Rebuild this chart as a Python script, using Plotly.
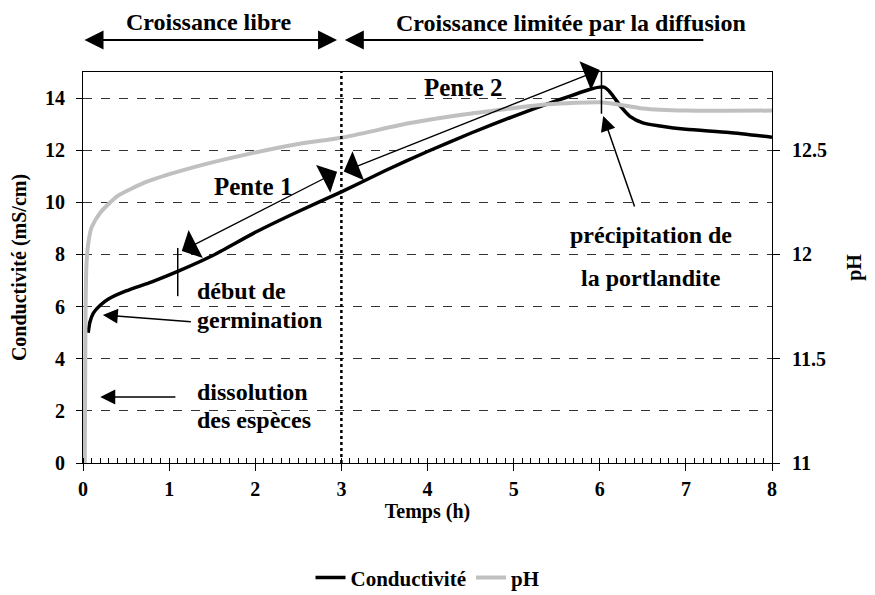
import plotly.graph_objects as go

# Conductivité (mS/cm) en fonction du temps (h)
temps_cond = [0.06, 0.08, 0.12, 0.2, 0.3, 0.5, 0.8, 1.1, 1.5, 2.0, 2.5, 3.0, 3.5,
              4.0, 4.5, 5.0, 5.5, 5.9, 6.0, 6.05, 6.1, 6.15, 6.25, 6.35, 6.5,
              6.7, 7.0, 7.5, 8.0]
conductivite = [5.0, 5.4, 5.75, 6.05, 6.3, 6.6, 6.95, 7.35, 7.95, 8.85, 9.65, 10.4, 11.2,
                11.95, 12.65, 13.3, 13.9, 14.35, 14.42, 14.42, 14.3, 14.1, 13.65, 13.3, 13.05,
                12.93, 12.8, 12.68, 12.5]

# pH en fonction du temps (h)
temps_ph = [0.02, 0.025, 0.03, 0.04, 0.06, 0.1, 0.2, 0.4, 0.75, 1.3, 1.9, 2.5, 3.0,
            3.8, 4.4, 5.4, 6.0, 6.2, 6.5, 7.0, 8.0]
ph = [11.0, 11.38, 11.75, 11.95, 12.05, 12.13, 12.2, 12.28, 12.35, 12.42, 12.48, 12.53, 12.56,
      12.63, 12.67, 12.72, 12.73, 12.72, 12.7, 12.69, 12.69]

x_ticks = [0, 1, 2, 3, 4, 5, 6, 7, 8]
y_ticks = [0, 2, 4, 6, 8, 10, 12, 14]
ph_ticks = [11, 11.5, 12, 12.5]
ph_labels = ["11", "11.5", "12", "12.5"]

FONT = "Liberation Serif"
ANN = 24

fig = go.Figure()
fig.add_trace(go.Scatter(
    x=temps_cond, y=conductivite, name="Conductivité", mode="lines",
    line=dict(color="black", width=3.5, shape="spline", smoothing=0.6),
))
fig.add_trace(go.Scatter(
    x=temps_ph, y=ph, name="pH", mode="lines", yaxis="y2",
    line=dict(color="#c0c0c0", width=4, shape="spline", smoothing=0.6),
))

# ligne verticale pointillée à 3 h
fig.add_shape(type="line", xref="x", yref="paper", x0=3, x1=3, y0=0, y1=1,
              line=dict(color="black", width=2.5, dash="dot"))
# petits repères verticaux
fig.add_shape(type="line", xref="x", yref="y", x0=1.1, x1=1.1, y0=6.4, y1=8.25,
              line=dict(color="black", width=1.5))
fig.add_shape(type="line", xref="x", yref="y", x0=6.02, x1=6.02, y0=13.4, y1=15.35,
              line=dict(color="black", width=1.5))


def arrow(x, y, ax, ay, head=2, both=False, size=1.3, width=2):
    fig.add_annotation(x=x, y=y, ax=ax, ay=ay, xref="x", yref="y", axref="x", ayref="y",
                       showarrow=True, arrowhead=head, startarrowhead=head,
                       arrowside="end+start" if both else "end",
                       arrowsize=size, startarrowsize=size, arrowwidth=width,
                       arrowcolor="black", text="")


def top_arrow(x, ax, both=False):
    fig.add_annotation(x=x, y=1.082, ax=ax, ay=0, xref="x", yref="paper", axref="x",
                       ayref="pixel", showarrow=True, arrowhead=2, startarrowhead=2,
                       arrowside="end+start" if both else "end",
                       arrowsize=1.9, startarrowsize=1.9, arrowwidth=2,
                       arrowcolor="black", text="")


def label(x, y, text, anchor="center", yref="y", size=ANN):
    fig.add_annotation(x=x, y=y, xref="x", yref=yref, text=text, showarrow=False,
                       xanchor=anchor, yanchor="middle",
                       font=dict(size=size, family=FONT, color="black", weight="bold"))


# flèches du haut
top_arrow(2.95, 0.0, both=True)
top_arrow(3.04, 7.22)
label(1.46, 1.129, "Croissance libre", yref="paper")
label(5.67, 1.125, "Croissance limitée par la diffusion", yref="paper")

# pentes
arrow(2.95, 11.17, 1.13, 8.1, head=1, both=True, size=4, width=1.3)
arrow(6.0, 15.08, 3.01, 11.16, head=1, both=True, size=4, width=1.3)
label(1.97, 10.59, "Pente 1", size=25)
label(4.41, 14.42, "Pente 2", size=25)

# repères texte
arrow(0.23, 5.68, 1.27, 5.41, head=2, size=2, width=1.5)
arrow(0.2, 2.53, 1.09, 2.53, head=2, size=2, width=1.5)
arrow(6.04, 13.31, 6.41, 9.78, head=2, size=2, width=1.5)
label(1.3, 6.6, "début de", anchor="left")
label(1.3, 5.5, "germination", anchor="left")
label(1.3, 2.72, "dissolution", anchor="left")
label(1.3, 1.65, "des espèces", anchor="left")
label(6.6, 8.75, "précipitation de")
label(6.6, 7.1, "la portlandite")

fig.update_layout(
    width=875, height=595,
    margin=dict(l=75, r=111, t=64, b=140, autoexpand=False),
    paper_bgcolor="white", plot_bgcolor="white",
    font=dict(family=FONT, size=20, color="black", weight="bold"),
    showlegend=True,
    legend=dict(orientation="h", x=0.5, xanchor="center", y=-0.294, yanchor="middle",
                font=dict(size=21), itemwidth=30, tracegroupgap=0),
    xaxis=dict(
        range=[0, 8], tickvals=x_ticks, ticks="outside", ticklen=7, tickwidth=1,
        tickcolor="black", showline=True, linecolor="black", linewidth=1, mirror=True,
        showgrid=False, zeroline=False, automargin=False, ticklabelstandoff=1,
        minor=dict(dtick=0.1, ticks="inside", ticklen=5, tickcolor="black", showgrid=False),
        title=dict(text="Temps (h)", font=dict(size=20), standoff=0),
    ),
    yaxis=dict(
        range=[0, 15], tickvals=y_ticks, ticks="outside", ticklen=6, tickcolor="black",
        showline=True, linecolor="black", linewidth=1, mirror=True, automargin=False,
        ticklabelstandoff=7,
        showgrid=True, gridcolor="#333333", gridwidth=1, griddash="dash", zeroline=False,
        title=dict(text="Conductivité (mS/cm)", font=dict(size=20), standoff=14),
    ),
    yaxis2=dict(
        range=[11, 12.875], overlaying="y", side="right", tickvals=ph_ticks,
        ticktext=ph_labels, ticks="outside", ticklen=7, tickcolor="black", automargin=False,
        ticklabelstandoff=8,
        showgrid=False, zeroline=False, showline=True, linecolor="black",
        title=dict(text="pH", font=dict(size=20), standoff=20),
    ),
)

fig.write_html("out.html")
